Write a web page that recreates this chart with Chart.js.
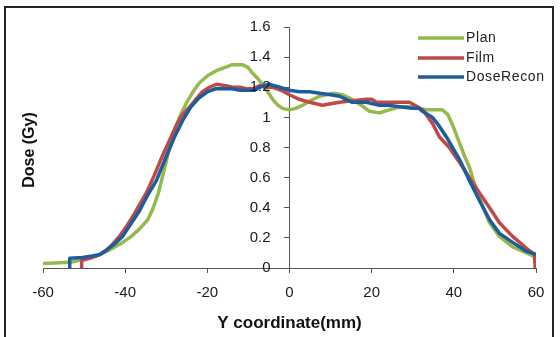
<!DOCTYPE html>
<html>
<head>
<meta charset="utf-8">
<script src="https://cdn.jsdelivr.net/npm/chart.js@4.4.0/dist/chart.umd.min.js"></script>
<style>
  html, body { margin: 0; padding: 0; background: #fff; }
  #wrap { width: 560px; height: 337px; position: relative; }
</style>
</head>
<body>
<div id="wrap"><canvas id="out"></canvas></div>
<script>
// dose profiles (x in mm, dose in Gy)
const planX = [-60, -56, -53, -50, -47, -44.5, -42.5, -40.6, -38.5, -36.5, -34.5, -33.3, -32, -30.5, -28.5, -26.8, -25, -23.5, -21.9, -19.8, -17.8, -15.8, -13.9, -11.5, -10, -9.2, -7.8, -6.6, -5.3, -4.1, -2.8, -1.7, 0, 1.5, 3.2, 5, 7.3, 9, 10.5, 12.9, 14.5, 16.3, 18, 19.5, 21.9, 24.3, 27, 29.2, 31, 33.3, 35, 37.2, 38.5, 39.7, 40.8, 41.8, 42.8, 43.8, 45, 46.7, 48.7, 51.1, 54.3, 57.7, 60];
const planY = [0.03, 0.035, 0.04, 0.06, 0.08, 0.11, 0.14, 0.17, 0.21, 0.26, 0.32, 0.39, 0.49, 0.65, 0.88, 1.0, 1.1, 1.17, 1.23, 1.28, 1.31, 1.33, 1.35, 1.35, 1.33, 1.3, 1.26, 1.22, 1.17, 1.12, 1.08, 1.06, 1.05, 1.06, 1.08, 1.11, 1.14, 1.15, 1.16, 1.15, 1.13, 1.1, 1.07, 1.04, 1.03, 1.05, 1.07, 1.07, 1.06, 1.05, 1.05, 1.05, 1.02, 0.95, 0.87, 0.8, 0.73, 0.67, 0.56, 0.43, 0.3, 0.21, 0.14, 0.1, 0.07];

const filmX = [-50.6, -50.6, -48, -46, -44.5, -43, -41.4, -39.8, -38.2, -36.5, -34.8, -33, -31, -29, -27.5, -26, -24.3, -22.5, -21.2, -19.5, -17.8, -15.5, -13.9, -12, -10.5, -9, -7.3, -5.5, -4.1, -2, 0, 2.4, 4.9, 8, 10, 12.2, 15.3, 18.7, 20, 21.2, 23, 26, 29.2, 30.5, 32.4, 34.8, 36.5, 38.9, 41.4, 43.8, 46.2, 48.7, 51.1, 54.3, 57.7, 59.6, 59.8];
const filmY = [0, 0.05, 0.07, 0.09, 0.12, 0.16, 0.21, 0.27, 0.34, 0.42, 0.5, 0.61, 0.74, 0.86, 0.95, 1.02, 1.07, 1.13, 1.17, 1.2, 1.22, 1.21, 1.2, 1.2, 1.19, 1.19, 1.21, 1.2, 1.2, 1.18, 1.15, 1.12, 1.1, 1.08, 1.09, 1.1, 1.11, 1.12, 1.12, 1.1, 1.1, 1.1, 1.1, 1.08, 1.05, 0.96, 0.87, 0.8, 0.7, 0.6, 0.5, 0.4, 0.3, 0.21, 0.13, 0.09, 0];

const reconX = [-53.5, -53.5, -50.4, -48, -46.2, -44.5, -43, -40.6, -38.2, -36.5, -34.8, -32.4, -30, -28, -26, -24, -22, -20, -18, -16, -14, -12, -10.5, -8.5, -7.3, -5, -2.4, 0, 2.4, 4.9, 7.3, 10, 12.2, 15.3, 18.7, 21.9, 24, 26.8, 29.9, 31.6, 32.4, 34.8, 36.5, 38.2, 41.4, 43.8, 46.2, 48.7, 51.1, 54.3, 57.7, 60];
const reconY = [0, 0.065, 0.07, 0.08, 0.09, 0.12, 0.15, 0.21, 0.31, 0.38, 0.47, 0.58, 0.74, 0.87, 0.98, 1.07, 1.13, 1.17, 1.19, 1.19, 1.19, 1.18, 1.18, 1.18, 1.2, 1.22, 1.2, 1.18, 1.17, 1.17, 1.16, 1.15, 1.14, 1.1, 1.1, 1.08, 1.08, 1.07, 1.06, 1.06, 1.04, 1.0, 0.94, 0.87, 0.72, 0.58, 0.45, 0.32, 0.23, 0.17, 0.11, 0.09];

const seriesNames = ["Plan", "Film", "DoseRecon"];
const seriesColors = ["#94BA4C", "#BE4A48", "#1F5C9E"];

const xTicks = [-60, -40, -20, 0, 20, 40, 60];
const yTicks = [0, 0.2, 0.4, 0.6, 0.8, 1, 1.2, 1.4, 1.6];

function pairs(xs, ys) {
  return xs.map((x, i) => ({ x: x, y: ys[i] }));
}

const FONT = "'Liberation Sans', Arial, sans-serif";
const axisGrey = "#555";

// white page + thin frame round the whole figure
const framePlugin = {
  id: "frame",
  beforeDraw(chart) {
    const ctx = chart.ctx;
    ctx.save();
    ctx.fillStyle = "#fff";
    ctx.fillRect(0, 0, chart.width, chart.height);
    ctx.strokeStyle = "#222";
    ctx.lineWidth = 2;
    ctx.strokeRect(5, 7, 548, 340);
    ctx.restore();
  }
};

// y labels sit left of the centred axis, legend top right, rotated y title
const sidePlugin = {
  id: "side",
  afterDraw(chart) {
    const ctx = chart.ctx;
    const sx = chart.scales.x, sy = chart.scales.y;
    ctx.save();
    const axisX = sx.getPixelForValue(0);
    ctx.font = "15px " + FONT;
    ctx.fillStyle = "#1a1a1a";
    ctx.textAlign = "right";
    ctx.textBaseline = "middle";
    sy.ticks.forEach(t => {
      ctx.fillText(String(Math.round(t.value * 10) / 10), axisX - 19, sy.getPixelForValue(t.value));
    });

    const rows = [38, 58, 77];
    chart.data.datasets.forEach((ds, i) => {
      ctx.strokeStyle = ds.borderColor;
      ctx.lineWidth = 3.5;
      ctx.beginPath();
      ctx.moveTo(418, rows[i]);
      ctx.lineTo(464, rows[i]);
      ctx.stroke();
      ctx.fillStyle = "#222";
      ctx.font = "14px " + FONT;
      ctx.letterSpacing = "0.6px";
      ctx.textAlign = "left";
      ctx.textBaseline = "middle";
      ctx.fillText(ds.label, 466, rows[i]);
    });
    ctx.letterSpacing = "0px";
    ctx.translate(30, 150);
    ctx.rotate(-Math.PI / 2);
    ctx.font = "bold 16px " + FONT;
    ctx.fillStyle = "#111";
    ctx.textAlign = "center";
    ctx.textBaseline = "middle";
    ctx.fillText("Dose (Gy)", 0, 0);
    ctx.restore();
  }
};

const xs = [planX, filmX, reconX];
const ys = [planY, filmY, reconY];

const chartConfig = {
  type: "line",
  data: {
    datasets: seriesNames.map((name, i) => ({
      label: name,
      data: pairs(xs[i], ys[i]),
      borderColor: seriesColors[i],
      backgroundColor: seriesColors[i],
      borderWidth: 3.5,
      pointRadius: 0,
      tension: 0,
      borderJoinStyle: "round",
      fill: false,
      order: 3 - i
    }))
  },
  options: {
    responsive: true,
    maintainAspectRatio: false,
    animation: false,
    layout: { padding: { left: 43, right: 24, top: 27, bottom: 0 } },
    plugins: {
      legend: { display: false },
      tooltip: { enabled: false }
    },
    scales: {
      x: {
        type: "linear",
        position: "bottom",
        min: -60,
        max: 60,
        afterBuildTicks: s => { s.ticks = xTicks.map(v => ({ value: v })); },
        afterFit: s => { s.height = 69; },
        ticks: {
          font: { family: FONT, size: 15 },
          color: "#1a1a1a",
          padding: 11,
          maxRotation: 0
        },
        grid: { display: true, drawOnChartArea: false, drawTicks: true, tickLength: 5, color: axisGrey },
        border: { display: true, color: axisGrey, width: 1 },
        title: {
          display: true,
          text: "Y coordinate(mm)",
          font: { family: FONT, size: 17, weight: "bold" },
          color: "#111",
          padding: { top: 0, bottom: 3 }
        }
      },
      y: {
        type: "linear",
        position: { x: 0 },
        min: 0,
        max: 1.6,
        afterBuildTicks: s => { s.ticks = yTicks.map(v => ({ value: v })); },
        ticks: { display: false },
        grid: { display: true, drawOnChartArea: false, drawTicks: true, tickLength: 5, color: axisGrey },
        border: { display: true, color: axisGrey, width: 1 }
      }
    }
  },
  plugins: [framePlugin, sidePlugin]
};

const canvasCtx = document.getElementById("out").getContext("2d");
window.chart = new Chart(canvasCtx, chartConfig);
</script>
</body>
</html>
